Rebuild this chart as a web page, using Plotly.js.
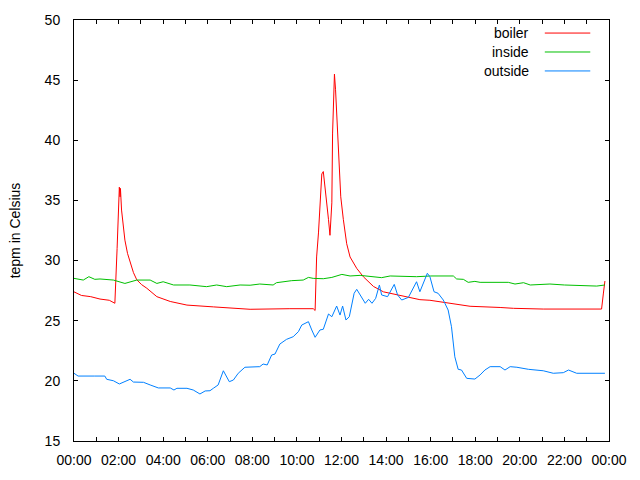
<!DOCTYPE html>
<html>
<head>
<meta charset="utf-8">
<script src="https://cdn.plot.ly/plotly-3.0.1.min.js"></script>
<style>
  html, body { margin: 0; padding: 0; background: #fff; }
  #chart { width: 640px; height: 480px; }
</style>
</head>
<body>
<div id="chart"></div>
<script>
var day = '2014-01-01 ';

var boilerTimes = ['00:00','00:20','00:45','01:10','01:35','01:50','01:56','02:02','02:04','02:05','02:08',
  '02:13','02:17','02:24','02:31','02:40','02:49','03:02','03:16','03:43','04:19','05:04','06:15','07:00',
  '07:54','09:41','10:44','10:49','10:53','10:58','11:02','11:07','11:11','11:16','11:20','11:25','11:29',
  '11:34','11:36','11:41','11:44','11:47','11:50','11:53','11:58','12:05','12:14','12:23','12:41','12:59',
  '13:26','13:53','14:29','15:04','15:31','15:58','17:19','17:46','19:07','19:43','21:03','23:40','23:45','23:49'];
var boilerTemps = [27.4,27.1,27.0,26.8,26.7,26.45,31.0,36.1,35.3,36.0,34.2,
  32.8,31.7,30.6,29.8,29.0,28.4,28.0,27.7,27.0,26.6,26.3,26.15,26.05,
  25.95,26.0,26.0,25.85,30.3,32.3,34.8,37.2,37.4,36.1,35.0,33.4,32.1,
  34.8,40.6,45.5,44.2,42.2,40.0,37.8,35.3,33.4,31.4,30.3,29.35,28.65,
  27.85,27.4,27.15,26.95,26.75,26.7,26.35,26.2,26.1,26.03,25.97,25.97,27.3,28.3];

var insideTimes = ['00:00','00:25','00:40','00:56','01:10','01:46','02:17','02:31','02:49','03:25','03:43',
  '04:00','04:28','05:12','05:57','06:24','06:51','07:27','07:54','08:20','08:56','09:05','09:46','10:17',
  '10:31','10:44','11:11','11:34','12:01','12:23','12:50','13:48','14:11','15:22','16:00','17:01','17:10',
  '17:28','17:41','17:59','18:13','19:29','19:47','20:10','20:28','21:21','22:00','23:27','23:40','23:49'];
var insideTemps = [28.52,28.38,28.66,28.44,28.47,28.38,28.1,28.24,28.38,28.38,28.1,
  28.24,27.97,27.97,27.83,27.97,27.83,27.97,27.95,28.05,27.97,28.16,28.33,28.38,
  28.6,28.52,28.49,28.6,28.85,28.72,28.77,28.58,28.72,28.66,28.72,28.72,28.47,
  28.44,28.19,28.27,28.19,28.19,28.05,28.16,27.97,28.05,27.97,27.88,27.97,27.97];

var outsideTimes = ['00:00','00:11','00:56','01:23','01:28','01:46','02:02','02:13','02:31','02:40','03:07',
  '03:25','03:47','04:19','04:29','04:37','05:04','05:21','05:39','05:53','06:06','06:15','06:28','06:42',
  '06:58','07:09','07:22','07:40','07:54','08:20','08:29','08:40','08:52','09:01','09:14','09:32','09:50',
  '10:04','10:13','10:31','10:40','10:49','11:02','11:11','11:25','11:34','11:47','11:56','12:03','12:12',
  '12:21','12:34','12:41','13:04','13:13','13:22','13:32','13:42','13:48','14:04','14:22','14:31','14:42',
  '15:00','15:22','15:31','15:51','15:58','16:09','16:20','16:34','16:47','16:56','17:05','17:14','17:23',
  '17:37','17:59','18:13','18:26','18:40','19:07','19:20','19:34','19:52','20:05','20:23','21:03','21:30',
  '21:57','22:11','22:33','23:49'];
var outsideTemps = [20.63,20.4,20.4,20.4,20.13,20.01,19.74,19.9,20.13,19.9,19.88,
  19.66,19.41,19.41,19.24,19.38,19.38,19.24,18.91,19.16,19.18,19.38,19.66,20.84,
  19.93,20.07,20.63,21.13,21.15,21.18,21.4,21.32,22.15,22.23,23.06,23.45,23.67,
  24.09,24.64,24.92,24.23,23.62,24.23,24.29,25.56,25.33,26.22,25.47,26.22,25.06,
  25.33,27.28,27.61,26.45,26.78,26.45,26.86,27.97,27.14,27.0,28.02,27.14,26.72,
  26.94,28.24,27.41,28.94,28.66,27.41,27.28,26.72,25.89,24.5,22.0,20.96,20.9,
  20.21,20.15,20.49,20.9,21.18,21.18,20.9,21.18,21.13,21.04,20.96,20.84,20.63,
  20.68,20.9,20.63,20.63];

var seriesNames = ['boiler', 'inside', 'outside'];
var seriesColors = ['#ff0000', '#00c000', '#0080ff'];
var seriesTimes = [boilerTimes, insideTimes, outsideTimes];
var seriesTemps = [boilerTemps, insideTemps, outsideTemps];

var data = seriesNames.map(function(name, i) {
  return {
    x: seriesTimes[i].map(function(t) { return day + t; }),
    y: seriesTemps[i],
    name: name,
    type: 'scatter',
    mode: 'lines',
    line: {color: seriesColors[i], width: 1},
    hoverinfo: 'skip'
  };
});

// gnuplot style key: text on the left, sample line on the right
var annotations = [];
var shapes = [];
seriesNames.forEach(function(name, i) {
  var yy = 0.969 - i * 0.045;
  annotations.push({
    xref: 'paper', yref: 'paper', x: 0.855, y: yy,
    xanchor: 'right', yanchor: 'middle', showarrow: false,
    text: name, font: {size: 14, color: '#000'}
  });
  shapes.push({
    type: 'line', xref: 'paper', yref: 'paper',
    x0: 0.88, x1: 0.965, y0: yy, y1: yy,
    line: {color: seriesColors[i], width: 1}
  });
});

var layout = {
  width: 640,
  height: 480,
  margin: {l: 74, r: 31, t: 20, b: 39},
  paper_bgcolor: '#fff',
  plot_bgcolor: '#fff',
  font: {family: 'Liberation Sans, Arial, sans-serif', size: 12, color: '#000'},
  showlegend: false,
  xaxis: {
    type: 'date',
    range: [day + '00:00', '2014-01-02 00:00'],
    dtick: 7200000,
    tick0: day + '00:00',
    tickformat: '%H:%M',
    ticks: 'inside',
    ticklen: 4,
    tickcolor: '#000',
    ticklabelstandoff: 6,
    showgrid: false,
    zeroline: false,
    showline: true,
    linecolor: '#000',
    linewidth: 1,
    mirror: 'ticks',
    tickfont: {size: 14},
    minor: {dtick: 3600000, ticks: 'inside', ticklen: 4, tickcolor: '#000', showgrid: false}
  },
  yaxis: {
    range: [15, 50],
    dtick: 5,
    ticks: 'inside',
    ticklen: 4,
    tickcolor: '#000',
    ticklabelstandoff: 10,
    showgrid: false,
    zeroline: false,
    showline: true,
    linecolor: '#000',
    linewidth: 1,
    mirror: 'ticks',
    tickfont: {size: 14},
    title: {text: 'tepm in Celsius', font: {size: 14}, standoff: 20}
  },
  annotations: annotations,
  shapes: shapes
};

Plotly.newPlot('chart', data, layout, {displayModeBar: false, staticPlot: true});
</script>
</body>
</html>
